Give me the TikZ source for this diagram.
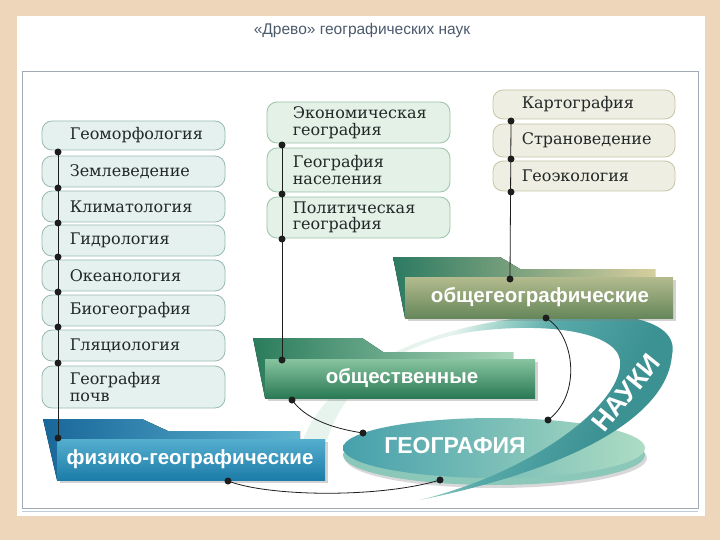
\documentclass[tikz,border=0pt]{standalone}
\usepackage{fontspec}
\setmainfont{DejaVu Serif}
\newfontfamily\sansfont{Liberation Sans}
\newfontfamily\serfont{DejaVu Serif}
\usetikzlibrary{shapes.geometric,shadows}
\definecolor{bgbeige}{HTML}{EED6BA}
\definecolor{framec}{HTML}{A2ABB6}
\definecolor{framec2}{HTML}{BCCCDC}
\definecolor{titlec}{HTML}{4C5A6C}
\definecolor{txtc}{HTML}{222828}
\definecolor{lfill}{HTML}{E5F1EF}
\definecolor{ldraw}{HTML}{98BAB2}
\definecolor{mfill}{HTML}{E3F1E7}
\definecolor{mdraw}{HTML}{9CC2A8}
\definecolor{rfill}{HTML}{EFEEE2}
\definecolor{rdraw}{HTML}{C8C4A6}
\definecolor{connc}{HTML}{1E1E1E}
\definecolor{ellL}{HTML}{46A0AB}
\definecolor{ellR}{HTML}{AEDCC4}
\definecolor{rimc}{HTML}{8CC8BA}
\definecolor{bandL}{HTML}{E7F4EE}
\definecolor{bandM}{HTML}{98D0C8}
\definecolor{bandR}{HTML}{58A9A9}
\definecolor{bandD}{HTML}{3C9193}
\definecolor{fizBackL}{HTML}{19679A}
\definecolor{fizBackR}{HTML}{5DB4D0}
\definecolor{fizTop}{HTML}{55AECE}
\definecolor{fizBot}{HTML}{1C7CA9}
\definecolor{obsBackL}{HTML}{2B7C5C}
\definecolor{obsBackR}{HTML}{A8D5B8}
\definecolor{obsTop}{HTML}{88C4A0}
\definecolor{obsBot}{HTML}{2A7A55}
\definecolor{ogBackL}{HTML}{2C7A62}
\definecolor{ogBackR}{HTML}{D6CE9E}
\definecolor{ogTop}{HTML}{B3BB8E}
\definecolor{ogBot}{HTML}{66875A}
\pgfdeclarehorizontalshading{bandshade}{100bp}{color(0bp)=(bandL); color(40bp)=(bandL); color(47bp)=(bandM); color(54bp)=(bandR); color(68bp)=(bandD); color(100bp)=(bandD)}
\begin{document}
\begin{tikzpicture}[x=1pt,y=-1pt,
  sbox/.style={draw, rounded corners=10pt, minimum width=183pt, inner sep=0pt, line width=0.8pt},
  lbox/.style={sbox, fill=lfill, draw=ldraw},
  mbox/.style={sbox, fill=mfill, draw=mdraw},
  rbox/.style={sbox, fill=rfill, draw=rdraw, minimum width=182pt},
  btext/.style={font=\serfont\fontsize{16}{16.5}\selectfont, text=txtc, align=left, inner sep=0pt, anchor=west},
  ftext/.style={font=\sansfont\bfseries\fontsize{20.5}{24}\selectfont, text=white},
  front/.style={rectangle, minimum height=41pt, inner sep=0pt, drop shadow={shadow xshift=3pt, shadow yshift=-3pt, opacity=0.35}},
  dot/.style={circle, fill=connc, inner sep=0pt, minimum size=7pt},
  conn/.style={draw=connc, line width=0.8pt}
]
\useasboundingbox (0,0) rectangle (720,540);
\fill[bgbeige] (0,0) rectangle (720,540);
\fill[white] (17,16) rectangle (705,516);
\draw[framec, line width=1pt] (22,72) rectangle (698,508);
\draw[framec2, line width=1pt] (22,511) -- (698,511);

\node[font=\sansfont\fontsize{15.5}{18}\selectfont, text=titlec] (title) at (362,30) {«Древо» географических наук};

% ellipse GEOGRAPHY
\node[ellipse, minimum width=302pt, minimum height=60pt, inner sep=0pt, fill=rimc,
      drop shadow={shadow xshift=2pt, shadow yshift=-3pt, opacity=0.3}] (georim) at (494,455) {};
\node[ellipse, minimum width=302pt, minimum height=60pt, inner sep=0pt, left color=ellL, right color=ellR] (geo) at (494,448) {};

% band "NAUKI"
\shade[shading=bandshade, shading angle=-26.8]
  (296,472) .. controls (300,400) and (380,335) .. (520,318)
  .. controls (620,306) and (680,320) .. (672,355)
  .. controls (668,410) and (590,465) .. (420,500)
  .. controls (540,470) and (625,400) .. (620,360)
  .. controls (615,330) and (540,322) .. (470,332)
  .. controls (390,345) and (330,390) .. (320,472) -- cycle;

\node[font=\sansfont\bfseries\fontsize{23}{26}\selectfont, text=white] (geotext) at (455,446) {ГЕОГРАФИЯ};
\node[font=\sansfont\bfseries\fontsize{27}{30}\selectfont, text=white, rotate=51] (nauki) at (626,393) {НАУКИ};

% folder: obshchegeograficheskie
\fill[left color=ogBackL, right color=ogBackR]
  (393,257) -- (500,257) -- (520,269) -- (655,269) -- (655,277) -- (405,318) -- cycle;
\node[front, minimum width=268pt, top color=ogTop, bottom color=ogBot] (og) at (539,297.5) {};
\node[ftext] (ogtext) at (540,297) {общегеографические};

% folder: obshchestvennye
\fill[left color=obsBackL, right color=obsBackR]
  (253,338) -- (362,338) -- (383,352) -- (513,352) -- (513,359) -- (265,398) -- cycle;
\node[front, minimum width=270pt, minimum height=39pt, top color=obsTop, bottom color=obsBot] (obs) at (400,378.5) {};
\node[ftext] (obstext) at (402,378) {общественные};

% folder: fiziko-geograficheskie
\fill[left color=fizBackL, right color=fizBackR]
  (43,419) -- (142,419) -- (168,431) -- (300,431) -- (300,439) -- (57,480) -- cycle;
\node[front, minimum width=268pt, top color=fizTop, bottom color=fizBot] (fiz) at (191,459.5) {};
\node[ftext] (fiztext) at (190,459) {физико-географические};

% left column
\node[lbox, minimum height=29pt] (b1) at (133.5,135.5) {};
\node[lbox, minimum height=31pt] (b2) at (133.5,171.5) {};
\node[lbox, minimum height=31pt] (b3) at (133.5,206.5) {};
\node[lbox, minimum height=31pt] (b4) at (133.5,240.5) {};
\node[lbox, minimum height=31pt] (b5) at (133.5,275.5) {};
\node[lbox, minimum height=31pt] (b6) at (133.5,310.5) {};
\node[lbox, minimum height=31pt] (b7) at (133.5,345.5) {};
\node[lbox, minimum height=42pt] (b8) at (133.5,387) {};
\node[btext] (t1) at ([xshift=28pt]b1.west) {Геоморфология};
\node[btext] (t2) at ([xshift=28pt]b2.west) {Землеведение};
\node[btext] (t3) at ([xshift=28pt]b3.west) {Климатология};
\node[btext] (t4) at ([xshift=28pt]b4.west) {Гидрология};
\node[btext] (t5) at ([xshift=28pt]b5.west) {Океанология};
\node[btext] (t6) at ([xshift=28pt]b6.west) {Биогеография};
\node[btext] (t7) at ([xshift=28pt]b7.west) {Гляциология};
\node[btext] (t8) at ([xshift=28pt]b8.west) {География\\почв};

% middle column
\node[mbox, minimum height=41pt] (m1) at (358.5,122.5) {};
\node[mbox, minimum height=44pt] (m2) at (358.5,170) {};
\node[mbox, minimum height=41pt] (m3) at (358.5,217.5) {};
\node[btext] (u1) at ([xshift=26pt]m1.west) {Экономическая\\география};
\node[btext] (u2) at ([xshift=26pt]m2.west) {География\\населения};
\node[btext] (u3) at ([xshift=26pt]m3.west) {Политическая\\география};

% right column
\node[rbox, minimum height=29pt] (r1) at (584,104.5) {};
\node[rbox, minimum height=33pt] (r2) at (584,140.5) {};
\node[rbox, minimum height=30pt] (r3) at (584,176) {};
\node[btext] (v1) at ([xshift=29pt]r1.west) {Картография};
\node[btext] (v2) at ([xshift=29pt]r2.west) {Страноведение};
\node[btext] (v3) at ([xshift=29pt]r3.west) {Геоэкология};

% dots
\node[dot] (L1) at (58,152) {};
\node[dot] (L2) at (58,188) {};
\node[dot] (L3) at (58,223) {};
\node[dot] (L4) at (58,257) {};
\node[dot] (L5) at (58,292) {};
\node[dot] (L6) at (58,327) {};
\node[dot] (L7) at (58,363) {};
\node[dot] (F1) at (58,438) {};
\node[dot] (F2) at (228,481) {};
\node[dot] (M1) at (282,145) {};
\node[dot] (M2) at (282,194) {};
\node[dot] (M3) at (282,239) {};
\node[dot] (S1) at (282,360) {};
\node[dot] (S2) at (292,400) {};
\node[dot] (R1) at (511,121) {};
\node[dot] (R2) at (511,159) {};
\node[dot] (R3) at (511,192) {};
\node[dot] (O1) at (510,279) {};
\node[dot] (O2) at (546,318) {};
\node[dot] (E1) at (548,420) {};
\node[dot] (E2) at (363,433) {};
\node[dot] (E3) at (440,480) {};

% connectors
\draw[conn] (L1.center) -- (F1.center);
\draw[conn] (M1.center) -- (S1.center);
\draw[conn] (R1.center) -- (O1.center);
\draw[conn] (O2.center) .. controls (575,335) and (582,395) .. (E1.center);
\draw[conn] (S2.center) .. controls (305,418) and (330,428) .. (E2.center);
\draw[conn] (F2.center) .. controls (270,497) and (380,498) .. (E3.center);
\end{tikzpicture}
\end{document}
